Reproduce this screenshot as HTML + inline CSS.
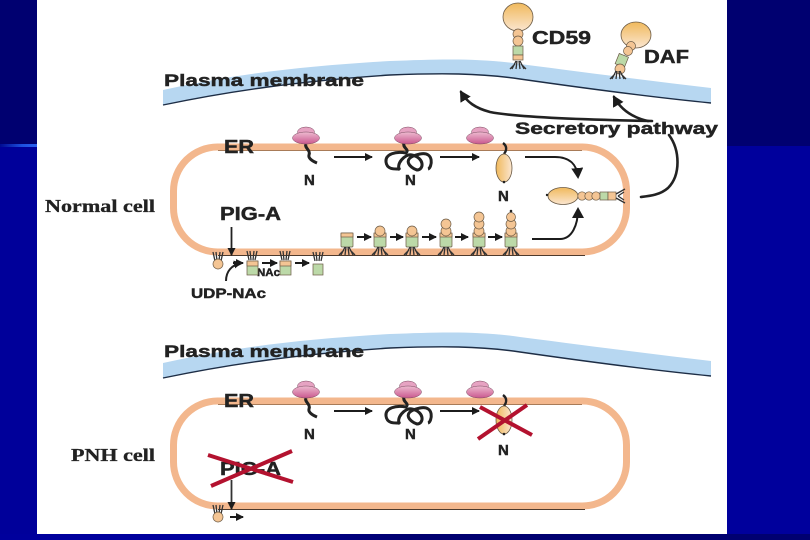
<!DOCTYPE html>
<html><head><meta charset="utf-8"><style>
html,body{margin:0;padding:0;width:810px;height:540px;overflow:hidden;background:#000078}
svg{display:block}
text{font-family:"Liberation Sans",sans-serif;font-weight:700;fill:#222;stroke:#222;stroke-width:.45}
.s{font-family:"Liberation Serif",serif;font-size:18px;stroke-width:.3}
.l{fill:none;stroke:#1c1c1c;stroke-width:2}
.c{fill:none;stroke:#222;stroke-width:2.6;stroke-linecap:round}
.x{stroke:#b3122f;stroke-width:4}
.t{fill:#f4c594;stroke:#6b5a45;stroke-width:.7}
.g{fill:#bcd9a8;stroke:#6b5a45;stroke-width:.7}
.k{stroke:#333;stroke-width:1.3;fill:none}
</style></head><body>
<svg width="810" height="540" viewBox="0 0 810 540" xmlns="http://www.w3.org/2000/svg">
<defs>
<linearGradient id="bot" x1="0" x2="1" y1="0" y2="0"><stop offset="0" stop-color="#00009c"/><stop offset=".25" stop-color="#00009c"/><stop offset=".5" stop-color="#000070"/><stop offset="1" stop-color="#000070"/></linearGradient>
<linearGradient id="gl" x1="0" x2="1" y1="0" y2="0"><stop offset="0" stop-color="#000a90"/><stop offset=".6" stop-color="#1c50e0"/><stop offset="1" stop-color="#2a60f0"/></linearGradient>
<linearGradient id="pk" x1="0" x2="0" y1="0" y2="1"><stop offset="0" stop-color="#eebbd0"/><stop offset="1" stop-color="#c9588f"/></linearGradient>
<linearGradient id="or" x1="0" x2="0" y1="0" y2="1"><stop offset="0" stop-color="#f0b95c"/><stop offset="1" stop-color="#fbe6d0"/></linearGradient>
<linearGradient id="orh" x1="0" x2="1" y1="0" y2="0"><stop offset="0" stop-color="#f0b95c"/><stop offset="1" stop-color="#fbe6d0"/></linearGradient>
<marker id="a" markerWidth="9" markerHeight="9" refX="7" refY="4" orient="auto" markerUnits="userSpaceOnUse"><path d="M0 0L8 4L0 8z" fill="#1c1c1c"/></marker>
<marker id="b" markerWidth="14" markerHeight="14" refX="9" refY="6" orient="auto" markerUnits="userSpaceOnUse"><path d="M0 0L11 6L0 12z" fill="#1c1c1c"/></marker>
<g id="rib"><ellipse cx="0" cy="-6" rx="8.5" ry="5" fill="#e6a3c2" stroke="#7a4a60" stroke-width=".5"/><ellipse cx="0" cy="0" rx="13.5" ry="6" fill="url(#pk)" stroke="#7a4a60" stroke-width=".5"/></g>
<g id="ch1"><path d="M306 144C304 148 311 150 309 155C308 158 312 161 317 163" fill="none" stroke="#222" stroke-width="3"/></g>
<g id="ch2"><path d="M404 143C402 148 410 149 406 153C396 151 385 154 386 162C387 170 395 169 399 169M400 170C395 165 405 153 412 155C425 158 424 170 417 170C410 168 400 158 420 154C435 151 432 168 428 169" fill="none" stroke="#222" stroke-width="3"/></g>
<g id="prot"><path d="M503 143C507 146 507 150 504 154" fill="none" stroke="#222" stroke-width="2.4"/><ellipse cx="504" cy="168" rx="8" ry="14" fill="url(#orh)" stroke="#6b5a45" stroke-width=".8"/><circle cx="504" cy="182" r="1.3" fill="#222"/></g>
<g id="leg"><path class="k" d="M-6 8L-2 0M-2 8L-1 0M6 8L2 0M2 8L1 0M-8 8L-3 3M8 8L3 3"/></g>
<g id="st"><rect x="-6" y="-7" width="12" height="14" rx="1" class="g"/><rect x="-6" y="-7" width="12" height="4" class="t"/><use href="#leg" y="7"/></g>
<g id="up"><path class="k" d="M-5 -5L-3 4M-2 -5L-1 4M5 -5L3 4M2 -5L1 4"/></g>
<g id="mem"><path d="M163 90C230 75 300 66 390 61C440 59 480 58 520 64C590 73 650 81 711 88V103C650 97 590 89 520 79C480 73 440 73 390 75C300 81 230 91 163 105Z" fill="#b7d7f1"/><path d="M163 105C230 91 300 81 390 75C440 73 480 73 520 79C590 89 650 97 711 103" fill="none" stroke="#1d2d45" stroke-width="1.4"/></g>
</defs>

<rect width="810" height="540" fill="#000070"/>
<rect x="0" y="146" width="37" height="394" fill="#00009a"/>
<rect x="727" y="146" width="83" height="394" fill="#00009c"/>
<rect x="0" y="144" width="37" height="3" fill="url(#gl)"/>
<rect x="0" y="534" width="810" height="6" fill="url(#bot)"/>
<rect x="37" y="0" width="690" height="534" fill="#fff"/>

<use href="#mem"/>
<use href="#mem" y="273"/>

<rect x="173.500" y="147" width="453" height="105" rx="44" fill="none" stroke="#f3b78d" stroke-width="7"/>
<path d="M218 150.500H582" fill="none" stroke="#a87b58" stroke-width="1"/>
<path d="M218 255.500H585" fill="none" stroke="#4e3a2c" stroke-width="1.1"/>
<rect x="173.500" y="401" width="453" height="105" rx="44" fill="none" stroke="#f3b78d" stroke-width="7"/>
<path d="M218 404.500H582" fill="none" stroke="#a87b58" stroke-width="1"/>
<path d="M218 509.500H585" fill="none" stroke="#4e3a2c" stroke-width="1.1"/>

<text x="164" y="86" font-size="17" textLength="200" lengthAdjust="spacingAndGlyphs">Plasma membrane</text>
<text x="164" y="357" font-size="17" textLength="200" lengthAdjust="spacingAndGlyphs">Plasma membrane</text>
<text x="532" y="44" font-size="18" textLength="59" lengthAdjust="spacingAndGlyphs">CD59</text>
<text x="644" y="63" font-size="18" textLength="45" lengthAdjust="spacingAndGlyphs">DAF</text>
<text x="515" y="134" font-size="17" textLength="203" lengthAdjust="spacingAndGlyphs">Secretory pathway</text>
<text x="224" y="153" font-size="18" textLength="30" lengthAdjust="spacingAndGlyphs">ER</text>
<text x="224" y="407" font-size="18" textLength="30" lengthAdjust="spacingAndGlyphs">ER</text>
<text x="220" y="220" font-size="18" textLength="61" lengthAdjust="spacingAndGlyphs">PIG-A</text>
<text x="220" y="475" font-size="18" textLength="61" lengthAdjust="spacingAndGlyphs">PIG-A</text>
<text x="191" y="298" font-size="14" textLength="75" lengthAdjust="spacingAndGlyphs">UDP-NAc</text>
<text x="257" y="276" font-size="11" textLength="23" lengthAdjust="spacingAndGlyphs">NAc</text>
<text class="s" x="45" y="212" textLength="110" lengthAdjust="spacingAndGlyphs">Normal cell</text>
<text class="s" x="71" y="461" textLength="84" lengthAdjust="spacingAndGlyphs">PNH cell</text>
<text x="304" y="185" font-size="15">N</text><text x="405" y="185" font-size="15">N</text><text x="498" y="201" font-size="15">N</text>
<text x="304" y="439" font-size="15">N</text><text x="405" y="439" font-size="15">N</text><text x="498" y="455" font-size="15">N</text>

<!-- CD59 -->
<ellipse cx="518" cy="17" rx="15" ry="14" fill="url(#or)" stroke="#6b5a45" stroke-width=".8"/>
<circle cx="518" cy="34" r="5" class="t"/><circle cx="518" cy="41" r="5" class="t"/>
<rect x="513" y="46" width="10" height="9" class="g"/><rect x="513" y="55" width="10" height="5" class="t"/>
<use href="#leg" x="518" y="61"/>
<!-- DAF -->
<ellipse cx="636" cy="35" rx="15" ry="13" fill="url(#or)" stroke="#6b5a45" stroke-width=".8"/>
<circle cx="631" cy="46" r="4.5" class="t"/><circle cx="628" cy="51" r="4.5" class="t"/>
<rect x="617" y="55" width="10" height="11" class="g" transform="rotate(22 622 60)"/>
<circle cx="620" cy="69" r="5" class="t"/>
<use href="#leg" x="618" y="71"/>

<!-- secretory -->
<path class="c" d="M652 121C600 120 520 118 490 112C475 108 467 102 461 92" marker-end="url(#b)"/>
<path class="c" d="M648 121C630 117 620 108 614 97" marker-end="url(#b)"/>
<path class="c" d="M669 135C680 150 681 175 668 188C660 195 650 196 641 197" stroke-width="2"/>

<!-- ER rows -->
<use href="#ch1"/><use href="#ch2"/><use href="#prot"/>
<use href="#rib" x="306" y="138"/><use href="#rib" x="408" y="138"/><use href="#rib" x="480" y="138"/>
<path class="l" d="M334 157H372" marker-end="url(#a)"/><path class="l" d="M440 157H479" marker-end="url(#a)"/>

<use href="#ch1" y="254"/><use href="#ch2" y="254"/>
<use href="#rib" x="306" y="392"/><use href="#rib" x="408" y="392"/><use href="#rib" x="480" y="392"/>
<use href="#prot" y="252"/>
<path class="l" d="M334 411H372" marker-end="url(#a)"/><path class="l" d="M440 411H479" marker-end="url(#a)"/>

<!-- top-right arrows & GPI protein -->
<path d="M525 157H555C570 157 577 165 578 177" fill="none" stroke="#1c1c1c" stroke-width="2" marker-end="url(#b)"/>
<path d="M532 239H560C572 239 578 225 578 209" fill="none" stroke="#1c1c1c" stroke-width="2" marker-end="url(#b)"/>
<ellipse cx="563" cy="196" rx="15" ry="8.5" fill="url(#or)" stroke="#6b5a45" stroke-width=".8"/>
<circle cx="582" cy="196" r="4.2" class="t"/><circle cx="589" cy="196" r="4.2" class="t"/><circle cx="596" cy="196" r="4.2" class="t"/>
<rect x="600" y="192" width="8" height="8" class="g"/><rect x="608" y="192" width="8" height="8" class="t"/>
<path class="k" d="M616 194L625 189M616 198L625 203M618 196L624 192M618 196L624 200"/>
<circle cx="547" cy="195" r="1.2" fill="#222"/>

<!-- bottom row normal -->
<use href="#st" x="347" y="240"/>
<use href="#st" x="380" y="240"/><circle cx="380" cy="231" r="5" class="t"/>
<use href="#st" x="412" y="240"/><circle cx="412" cy="231" r="5" class="t"/>
<use href="#st" x="446" y="240"/><circle cx="446" cy="231" r="5" class="t"/><circle cx="446" cy="224" r="5" class="t"/>
<use href="#st" x="479" y="240"/><circle cx="479" cy="231" r="5" class="t"/><circle cx="479" cy="224" r="5" class="t"/><circle cx="479" cy="217" r="5" class="t"/>
<use href="#st" x="511" y="240"/><circle cx="511" cy="231" r="5" class="t"/><circle cx="511" cy="224" r="5" class="t"/><circle cx="511" cy="217" r="4.5" class="t"/><circle cx="511" cy="211" r="1.3" fill="#222"/>
<path class="l" d="M357 237H371" marker-end="url(#a)"/><path class="l" d="M390 237H403" marker-end="url(#a)"/><path class="l" d="M422 237H436" marker-end="url(#a)"/><path class="l" d="M455 237H468" marker-end="url(#a)"/><path class="l" d="M488 237H502" marker-end="url(#a)"/>

<!-- under membrane -->
<use href="#up" x="218" y="257"/><circle cx="218" cy="264" r="5" class="t"/>
<use href="#up" x="252" y="256"/><rect x="247" y="261" width="11" height="14" class="g"/><rect x="247" y="261" width="11" height="5" class="t"/>
<use href="#up" x="285" y="256"/><rect x="280" y="261" width="11" height="14" class="g"/><rect x="280" y="261" width="11" height="5" class="t"/>
<use href="#up" x="318" y="257"/><rect x="313" y="264" width="10" height="11" class="g"/>
<path d="M231.500 227V255" fill="none" stroke="#222" stroke-width="1.8" marker-end="url(#a)"/>
<path class="l" d="M233 263H243" marker-end="url(#a)"/>
<path class="l" d="M262 263H277" marker-end="url(#a)"/><path class="l" d="M295 263H309" marker-end="url(#a)"/>
<path d="M226 281C226 271 232 265 241 263" fill="none" stroke="#222" stroke-width="2" marker-end="url(#a)"/>

<!-- PNH lower -->
<use href="#up" x="218" y="510"/><circle cx="218" cy="517" r="5" class="t"/>
<path d="M231.500 480V509" fill="none" stroke="#333" stroke-width="1.8" marker-end="url(#a)"/>
<path class="l" d="M230 517H243" marker-end="url(#a)"/>

<path class="x" d="M208 455L293 482M211 486L292 451"/>
<path class="x" d="M480 407L532 435M478 439L527 405"/>
</svg>
</body></html>
